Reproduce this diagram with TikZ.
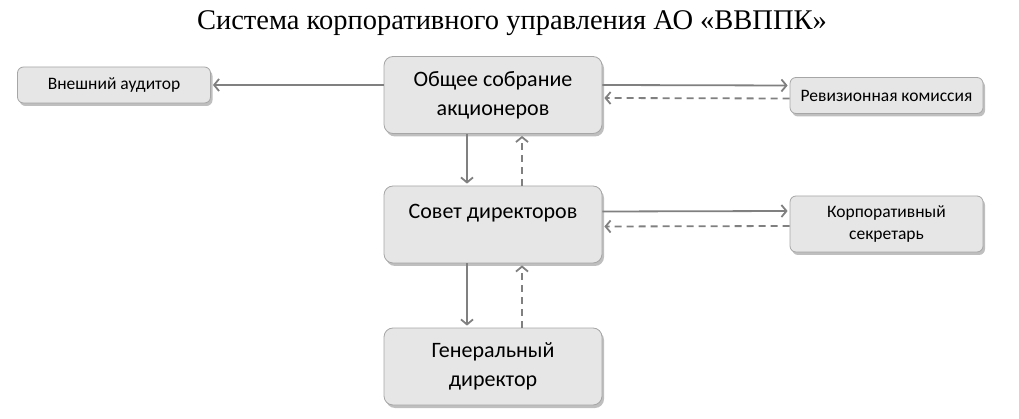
\documentclass[tikz,border=0pt]{standalone}
\usepackage{fontspec}
\setmainfont{Carlito}
\newfontfamily\titlefont{Liberation Serif}
\usetikzlibrary{arrows.meta, shadows}
\definecolor{boxfill}{HTML}{E6E6E6}
\definecolor{boxline}{HTML}{A6A6A6}
\definecolor{arrowgray}{HTML}{808080}

\begin{document}
\begin{tikzpicture}[x=1pt, y=-1pt,
    box/.style={rectangle, rounded corners=9pt, draw=boxline, fill=boxfill, line width=0.8pt, minimum width=218pt, minimum height=77pt, align=center, font=\fontsize{22}{29}\selectfont, drop shadow={shadow xshift=2pt, shadow yshift=-3pt, fill=black!25, opacity=1}},
    smallbox/.style={box, rounded corners=6pt, minimum width=193pt, minimum height=36pt, font=\fontsize{17.5}{22}\selectfont},
    arrow/.style={-{Straight Barb[length=5pt, width=12pt]}, line width=1.8pt, draw=arrowgray, shorten >=2pt},
    back/.style={arrow, dashed, dash pattern=on 7pt off 5pt}
]
\useasboundingbox (0,0) rectangle (1019,419);

% title
\node[font=\titlefont\fontsize{28.5}{32}\selectfont] (title) at (512, 23) {Система корпоративного управления АО «ВВППК»};

% centre column
\node[box] (gms) at (493, 95) {Общее собрание\\акционеров};
\node[box, text depth=27pt] (board) at (493, 224.5) {Совет директоров};
\node[box] (ceo) at (493, 366.5) {Генеральный\\директор};

% side boxes
\node[smallbox] (audit) at (114, 85) {Внешний аудитор};
\node[smallbox] (rev) at (886.5, 95.5) {Ревизионная комиссия};
\node[smallbox, minimum height=56pt] (sec) at (886.5, 224) {Корпоративный\\секретарь};

% links
\draw[arrow] (gms.west |- audit) -- (audit.east);
\draw[arrow] ([yshift=10pt]gms.east) -- ([yshift=10pt]rev.west);
\draw[back] ([yshift=-3pt]rev.west) -- ([yshift=-3pt]gms.east);
\draw[arrow] ([xshift=-26pt]gms.south) -- ([xshift=-26pt]board.north);
\draw[back] ([xshift=29pt]board.north) -- ([xshift=29pt]gms.south);
\draw[arrow] ([yshift=13pt]board.east) -- ([yshift=13pt]sec.west);
\draw[back] ([yshift=-2pt]sec.west) -- ([yshift=-2pt]board.east);
\draw[arrow] ([xshift=-26pt]board.south) -- ([xshift=-26pt]ceo.north);
\draw[back] ([xshift=29pt]ceo.north) -- ([xshift=29pt]board.south);

\end{tikzpicture}
\end{document}
